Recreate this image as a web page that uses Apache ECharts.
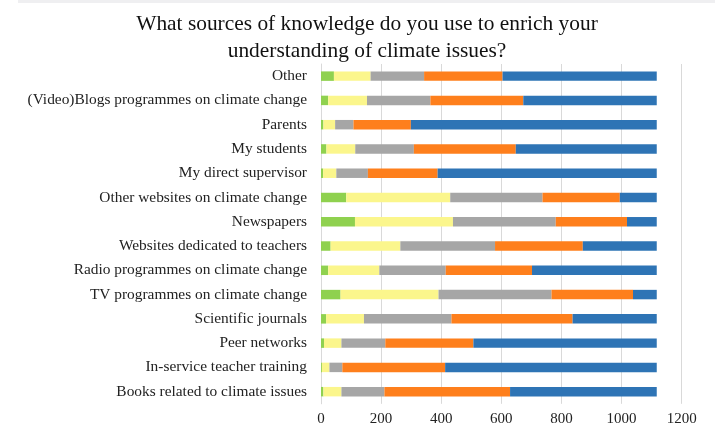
<!DOCTYPE html>
<html>
<head>
<meta charset="utf-8">
<script src="https://cdn.jsdelivr.net/npm/echarts@6/dist/echarts.min.js"></script>
<style>html,body{margin:0;padding:0;background:#fff}#c{width:715px;height:431px}</style>
</head>
<body>
<div id="c"></div>
<script>
const categories = [
  "Other",
  "(Video)Blogs programmes on climate change",
  "Parents",
  "My students",
  "My direct supervisor",
  "Other websites on climate change",
  "Newspapers",
  "Websites dedicated to teachers",
  "Radio programmes on climate change",
  "TV programmes on climate change",
  "Scientific journals",
  "Peer networks",
  "In-service teacher training",
  "Books related to climate issues"
];
const seriesGreen  = [43, 24, 8, 18, 7, 84, 113, 32, 24, 65, 17, 10, 3, 8];
const seriesYellow = [122, 129, 39, 96, 44, 346, 326, 232, 170, 326, 126, 58, 25, 60];
const seriesGray   = [178, 211, 61, 195, 105, 307, 342, 315, 221, 376, 291, 146, 43, 143];
const seriesOrange = [261, 309, 191, 339, 232, 257, 237, 292, 287, 271, 403, 293, 342, 418];
const seriesBlue   = [513, 444, 818, 469, 729, 123, 99, 246, 415, 79, 280, 610, 704, 488];
const xTicks = [0, 200, 400, 600, 800, 1000, 1200];

const colors = ['#8fd14f', '#fbf68c', '#a6a6a6', '#fe7f1c', '#2e74b5'];
const serif = '"Liberation Serif", "DejaVu Serif", serif';
const mk = (name, data) => ({
  name, type: 'bar', stack: 'total', data, barWidth: '39%',
  itemStyle: { borderWidth: 0 }
});
const chart = echarts.init(document.getElementById('c'));
chart.setOption({
  animation: false,
  color: colors,
  title: {
    text: 'What sources of knowledge do you use to enrich your\nunderstanding of climate issues?',
    left: 362, top: 6, textAlign: 'center',
    textStyle: { fontFamily: serif, fontSize: 21.4, fontWeight: 'normal', color: '#111', lineHeight: 27 }
  },
  graphic: [{ type: 'rect', shape: { x: 18, y: 0, width: 697, height: 3 }, style: { fill: '#efeff1' } }],
  grid: { left: 321, right: 33.3, top: 64, bottom: 27.2, containLabel: false },
  xAxis: {
    type: 'value', min: xTicks[0], max: xTicks[xTicks.length - 1], interval: 200,
    axisLine: { show: false }, axisTick: { show: false },
    splitLine: { show: true, lineStyle: { color: '#d9d9d9', width: 1 } },
    axisLabel: { fontFamily: serif, fontSize: 15, color: '#222', margin: 8, formatter: v => String(v) }
  },
  yAxis: {
    type: 'category', data: categories, inverse: true,
    axisLine: { show: true, lineStyle: { color: '#d9d9d9' } }, axisTick: { show: false },
    axisLabel: { fontFamily: serif, fontSize: 15.4, color: '#222', margin: 14 }
  },
  series: [
    mk('Green', seriesGreen),
    mk('Yellow', seriesYellow),
    mk('Gray', seriesGray),
    mk('Orange', seriesOrange),
    mk('Blue', seriesBlue)
  ]
});
</script>
</body>
</html>
